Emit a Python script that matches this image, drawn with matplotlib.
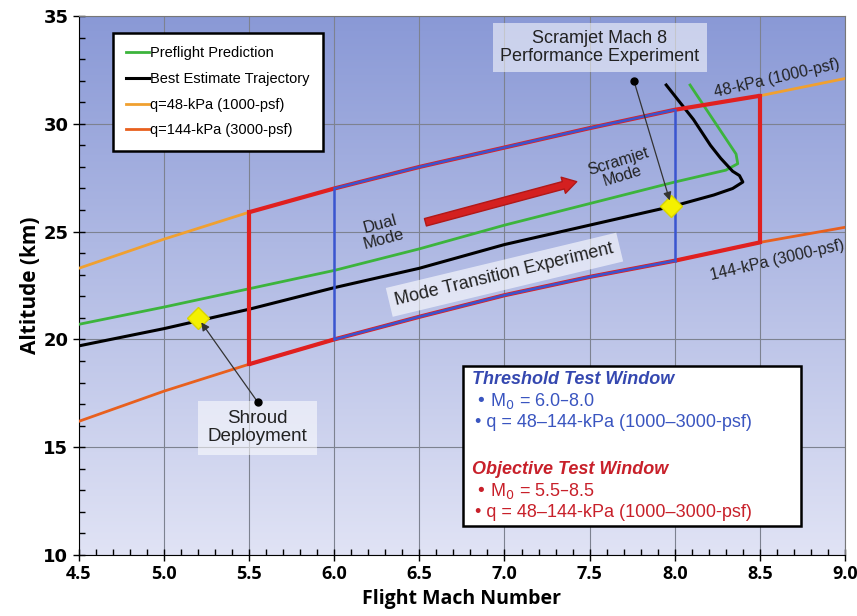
import numpy as np
import matplotlib.pyplot as plt
from matplotlib.patches import Rectangle

# dynamic pressure boundaries (Mach, altitude km)
q_mach = [4.5, 5.0, 5.5, 6.0, 6.5, 7.0, 7.5, 8.0, 8.5, 9.0]
q48_alt = [23.3, 24.65, 25.9, 27.0, 28.0, 28.9, 29.8, 30.65, 31.3, 32.1]
q144_alt = [16.2, 17.6, 18.85, 20.0, 21.05, 22.05, 22.9, 23.65, 24.5, 25.2]

# preflight prediction
pre_mach = [4.5, 5.0, 5.5, 6.0, 6.5, 7.0, 7.5, 8.0, 8.3, 8.37, 8.36, 8.09]
pre_alt = [20.7, 21.5, 22.35, 23.2, 24.2, 25.3, 26.3, 27.3, 27.85, 28.15, 28.6, 31.8]

# best estimate trajectory
best_mach = [4.5, 5.0, 5.5, 6.0, 6.5, 7.0, 7.5, 8.0, 8.23, 8.34, 8.40, 8.38, 8.34, 8.27, 8.21, 8.11, 7.95]
best_alt = [19.7, 20.5, 21.4, 22.4, 23.3, 24.4, 25.3, 26.2, 26.7, 27.0, 27.3, 27.6, 27.8, 28.4, 29.0, 30.2, 31.8]

objective_mach = [5.5, 8.5]
threshold_mach = [6.0, 8.0]

# event points
shroud = (5.2, 21.0)
scramjet8 = (7.98, 26.2)

plt.rcParams['font.family'] = ['Liberation Sans', 'DejaVu Sans']

fig = plt.figure(figsize=(8.57, 6.16), dpi=100)
ax = fig.add_axes([0.092, 0.099, 0.894, 0.875])
ax.set_xlim(4.5, 9.0)
ax.set_ylim(10, 35)

# background gradient
grad = np.linspace(0, 1, 256).reshape(-1, 1)
top = np.array([0.54, 0.60, 0.84])
bot = np.array([0.88, 0.89, 0.96])
img = top[None, None, :] * (1 - grad[:, :, None]) + bot[None, None, :] * grad[:, :, None]
ax.imshow(img, extent=[4.5, 9.0, 10, 35], aspect='auto', origin='upper', zorder=0)

ax.set_xticks(np.arange(4.5, 9.01, 0.5))
ax.set_xticks(np.arange(4.5, 9.01, 0.1), minor=True)
ax.set_yticks(np.arange(10, 36, 5))
ax.set_yticks(np.arange(10, 36, 1), minor=True)
ax.grid(True, which='major', color='#7d8290', lw=0.8, zorder=1)
ax.tick_params(which='major', direction='inout', length=8, width=1, labelsize=13)
ax.tick_params(which='minor', direction='in', length=4, width=1)
ax.set_xticklabels([f'{v:.1f}' for v in np.arange(4.5, 9.01, 0.5)],
                   fontweight='bold', family='Open Sans')
ax.set_yticklabels([f'{v:d}' for v in range(10, 36, 5)],
                   fontweight='bold', family='DejaVu Sans')
ax.set_xlabel('Flight Mach Number', fontsize=14, fontweight='bold', family='Open Sans')
ax.set_ylabel('Altitude (km)', fontsize=15, fontweight='bold', family='Open Sans', labelpad=2)
for s in ['top', 'right']:
    ax.spines[s].set_color('#777777')

c48 = '#f0a030'
c144 = '#e8601e'
cred = '#e02020'
cblue = '#3a55d0'

ax.plot(q_mach, q48_alt, color=c48, lw=2, zorder=3, label='q=48-kPa (1000-psf)')
ax.plot(q_mach, q144_alt, color=c144, lw=2, zorder=3, label='q=144-kPa (3000-psf)')
ax.plot(pre_mach, pre_alt, color='#3cb43c', lw=2, zorder=4, label='Preflight Prediction')
ax.plot(best_mach, best_alt, color='black', lw=2.2, zorder=4, label='Best Estimate Trajectory')


def window(lims, color, lw, z):
    m0, m1 = lims
    inside = [m for m in q_mach if m0 < m < m1]
    ms = [m0] + inside + [m1]
    top_alt = np.interp(ms, q_mach, q48_alt)
    bot_alt = np.interp(ms, q_mach, q144_alt)
    ax.plot(ms, top_alt, color=color, lw=lw, zorder=z, solid_capstyle='butt')
    ax.plot(ms, bot_alt, color=color, lw=lw, zorder=z, solid_capstyle='butt')
    for m in lims:
        ax.plot([m, m], [np.interp(m, q_mach, q144_alt), np.interp(m, q_mach, q48_alt)],
                color=color, lw=lw, zorder=z)


window(objective_mach, cred, 3, 5)
window(threshold_mach, cblue, 1.8, 6)

# mode arrow
ax.annotate('', xy=(7.44, 27.35), xytext=(6.52, 25.4),
            arrowprops=dict(arrowstyle='simple,head_length=1.0,head_width=1.2,tail_width=0.55',
                            color='#d42020', ec='#b01818'), zorder=7)

ax.text(6.28, 25.0, 'Dual\nMode', fontsize=12, rotation=15, ha='center', va='center',
        color='#222222', linespacing=1.0, zorder=8)
ax.text(7.68, 27.9, 'Scramjet\nMode', fontsize=11.5, rotation=17, ha='center', va='center',
        color='#222222', linespacing=1.0, zorder=8)
ax.text(7.0, 23.0, 'Mode Transition Experiment', fontsize=13, rotation=13.5,
        ha='center', va='center', color='#222222', zorder=8,
        bbox=dict(boxstyle='square,pad=0.35', fc='white', ec='none', alpha=0.6))
ax.text(8.6, 32.1, '48-kPa (1000-psf)', fontsize=11.5, rotation=13,
        ha='center', va='center', color='#222222', zorder=8)
ax.text(8.6, 23.65, '144-kPa (3000-psf)', fontsize=11.5, rotation=13,
        ha='center', va='center', color='#222222', zorder=8)

# event annotations
ax.text(7.56, 33.55, 'Scramjet Mach 8\nPerformance Experiment', fontsize=13,
        ha='center', va='center', color='#222222', linespacing=1.05, zorder=8,
        bbox=dict(boxstyle='square,pad=0.4', fc='white', ec='none', alpha=0.55))
ax.text(5.55, 15.9, 'Shroud\nDeployment', fontsize=13.5,
        ha='center', va='center', color='#222222', linespacing=1.05, zorder=8,
        bbox=dict(boxstyle='square,pad=0.5', fc='white', ec='none', alpha=0.55))
for dot, tgt in [((7.76, 32.0), scramjet8), ((5.55, 17.1), shroud)]:
    ax.annotate('', xy=tgt, xytext=dot,
                arrowprops=dict(arrowstyle='-|>', color='#333333', lw=0.9,
                                shrinkA=0, shrinkB=4, mutation_scale=12), zorder=9)
    ax.plot(*dot, 'o', color='black', ms=5, zorder=9)
ax.plot(*zip(shroud, scramjet8), 'D', color='#f4f000', mec='#d8d400', ms=11, ls='none', zorder=8)

# legend
handles, labels = ax.get_legend_handles_labels()
order = [2, 3, 0, 1]
leg = ax.legend([handles[i] for i in order], [labels[i] for i in order],
                loc='upper left', bbox_to_anchor=(0.044, 0.968), fontsize=10.5,
                handlelength=1.6, handletextpad=0.1, labelspacing=0.8,
                borderpad=0.9, borderaxespad=0, frameon=True, fancybox=False, framealpha=1,
                edgecolor='black')
leg.get_frame().set_linewidth(1.8)
leg.set_zorder(10)

# test window info box
ax.add_patch(Rectangle((0.502, 0.053), 0.44, 0.297, transform=ax.transAxes,
                       fc='white', ec='black', lw=1.8, zorder=10))
tb = dict(transform=ax.transAxes, zorder=11, va='center', ha='left')
ax.text(0.513, 0.325, 'Threshold Test Window', fontsize=13, fontweight='bold',
        style='italic', color='#3548b0', **tb)
ax.text(0.517, 0.285, '• M$_0$ = 6.0–8.0', fontsize=13, color='#3a55c0', **tb)
ax.text(0.517, 0.245, '• q = 48–144-kPa (1000–3000-psf)', fontsize=13, color='#3a55c0', **tb)
ax.text(0.513, 0.158, 'Objective Test Window', fontsize=13, fontweight='bold',
        style='italic', color='#c8202a', **tb)
ax.text(0.517, 0.118, '• M$_0$ = 5.5–8.5', fontsize=13, color='#c8202a', **tb)
ax.text(0.517, 0.078, '• q = 48–144-kPa (1000–3000-psf)', fontsize=13, color='#c8202a', **tb)

fig.savefig('out.png', dpi=100)
